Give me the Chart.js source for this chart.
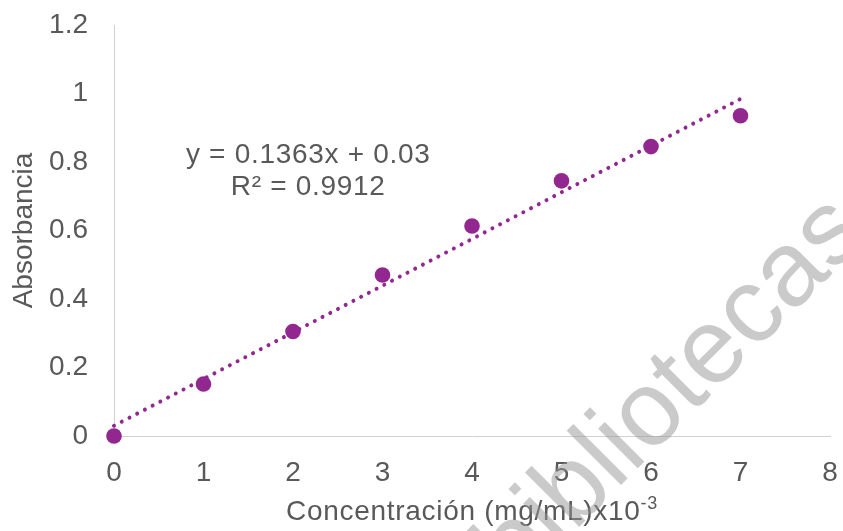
<!DOCTYPE html>
<html>
<head>
<meta charset="utf-8">
<script src="https://cdn.jsdelivr.net/npm/chart.js@4.4.1/dist/chart.umd.min.js"></script>
<style>
  html, body { margin: 0; padding: 0; background: #ffffff; }
  #wrap { width: 843px; height: 531px; }
</style>
</head>
<body>
<div id="wrap"><canvas id="chart" width="843" height="531"></canvas></div>
<script>
// Concentration (mg/mL x10^-3) and measured absorbance
const concentration = [0, 1, 2, 3, 4, 5, 6, 7];
const absorbance = [0, 0.152, 0.305, 0.470, 0.613, 0.745, 0.845, 0.935];

// Linear fit reported for the calibration curve
const fitSlope = 0.1363;
const fitIntercept = 0.03;
const fitR2 = '0.9912';
const fitRange = [0, 7];

// Axis ranges and tick steps
const xRange = [0, 8];
const xStep = 1;
const yRange = [0, 1.2];
const yStep = 0.2;

// Text
const xTitleMain = 'Concentración (mg/mL)x10';
const xTitleSup = '-3';
const yTitle = 'Absorbancia';
const eqLine1 = 'y = ' + fitSlope + 'x + ' + fitIntercept;
const eqLine2 = 'R² = ' + fitR2;
const eqAnchor = { x: 2.17, y: 0.797 };   // data position of the equation label
const watermark = 'bibliotecas';

const FONT = '"Liberation Sans", Arial, sans-serif';
const TEXT = '#595959';
const PURPLE = '#92278F';

const points = concentration.map((c, i) => ({ x: c, y: absorbance[i] }));
const fitPoints = fitRange.map(c => ({ x: c, y: fitSlope * c + fitIntercept }));

const labelsPlugin = {
  id: 'extraText',
  afterDraw(chart) {
    const { ctx, chartArea, scales } = chart;
    ctx.save();
    ctx.fillStyle = TEXT;
    ctx.letterSpacing = '0.7px';

    // regression equation
    ctx.font = '28px ' + FONT;
    ctx.textAlign = 'center';
    ctx.textBaseline = 'alphabetic';
    const ex = scales.x.getPixelForValue(eqAnchor.x);
    const ey = scales.y.getPixelForValue(eqAnchor.y);
    ctx.fillText(eqLine1, ex, ey);
    ctx.fillText(eqLine2, ex, ey + 32);

    // x-axis title with superscript exponent
    ctx.textAlign = 'left';
    ctx.font = '28px ' + FONT;
    const wMain = ctx.measureText(xTitleMain).width;
    ctx.font = '18px ' + FONT;
    const wSup = ctx.measureText(xTitleSup).width;
    const cx = (chartArea.left + chartArea.right) / 2;
    const startX = cx - (wMain + wSup) / 2;
    const baseY = 520;
    ctx.font = '28px ' + FONT;
    ctx.fillText(xTitleMain, startX, baseY);
    ctx.font = '18px ' + FONT;
    ctx.fillText(xTitleSup, startX + wMain, baseY - 11);

    // faint diagonal watermark
    ctx.letterSpacing = '0px';
    ctx.translate(516, 590);
    ctx.rotate(-45 * Math.PI / 180);
    ctx.font = '106px ' + FONT;
    ctx.fillStyle = 'rgba(150,150,150,0.5)';
    ctx.fillText(watermark, 0, 0);
    ctx.restore();
  }
};

new Chart(document.getElementById('chart'), {
  type: 'scatter',
  data: {
    datasets: [
      {
        type: 'scatter',
        data: points,
        backgroundColor: PURPLE,
        borderWidth: 0,
        pointRadius: 7.8,
        clip: false,
        order: 1
      },
      {
        type: 'line',
        data: fitPoints,
        borderColor: PURPLE,
        borderWidth: 4,
        borderDash: [0.01, 8.7],
        borderCapStyle: 'round',
        pointRadius: 0,
        fill: false,
        clip: false,
        order: 2
      }
    ]
  },
  options: {
    responsive: false,
    animation: false,
    devicePixelRatio: 1,
    layout: { padding: { top: 25, right: 13, left: 0, bottom: 0 } },
    plugins: { legend: { display: false }, tooltip: { enabled: false } },
    scales: {
      x: {
        type: 'linear',
        min: xRange[0], max: xRange[1],
        grid: { display: false, drawTicks: false },
        border: { display: true, color: '#d0d0d0', width: 1 },
        ticks: {
          stepSize: xStep,
          padding: 20,
          color: TEXT,
          font: { family: FONT, size: 28 },
          maxRotation: 0
        },
        afterFit(scale) {
          scale.height = 95;
          scale.paddingLeft = 0;
          scale.paddingRight = 0;
        }
      },
      y: {
        type: 'linear',
        min: yRange[0], max: yRange[1],
        grid: { display: false, drawTicks: false },
        border: { display: true, color: '#d0d0d0', width: 1 },
        ticks: {
          stepSize: yStep,
          padding: 26,
          color: TEXT,
          font: { family: FONT, size: 28 },
          callback: v => String(+v.toFixed(1))
        },
        title: {
          display: true,
          text: yTitle,
          color: TEXT,
          font: { family: FONT, size: 28 },
          padding: { top: 7, bottom: 0 }
        },
        afterFit(scale) {
          scale.width = 114;
          scale.paddingTop = 0;
          scale.paddingBottom = 0;
        }
      }
    }
  },
  plugins: [labelsPlugin]
});
</script>
</body>
</html>
